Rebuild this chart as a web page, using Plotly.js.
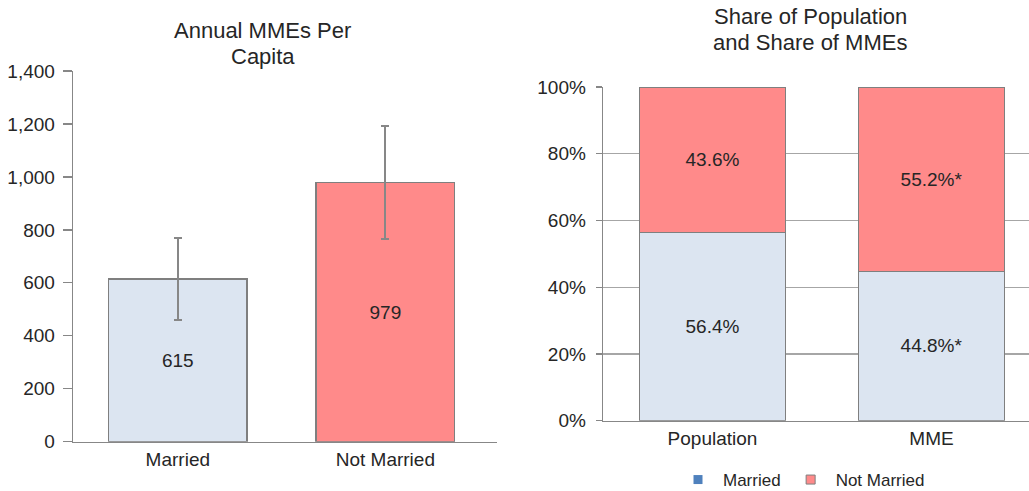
<!DOCTYPE html>
<html>
<head>
<meta charset="utf-8">
<script src="https://cdn.plot.ly/plotly-3.0.1.min.js"></script>
<style>html,body{margin:0;padding:0;background:#fff;}#chart{width:1029px;height:491px;}</style>
</head>
<body>
<div id="chart"></div>
<script>
// Left chart: Annual MMEs per capita
const perCapitaCategories = ['Married', 'Not Married'];
const perCapitaValues = [615, 979];
const perCapitaErrors = [154, 212];
const perCapitaLabels = ['615', '979'];

// Right chart: share of population and share of MMEs
const shareCategories = ['Population', 'MME'];
const marriedShare = [56.4, 44.8];
const notMarriedShare = [43.6, 55.2];
const marriedShareLabels = ['56.4%', '44.8%*'];
const notMarriedShareLabels = ['43.6%', '55.2%*'];

const leftTickVals = [0, 200, 400, 600, 800, 1000, 1200, 1400];
const leftTickText = ['0', '200', '400', '600', '800', '1,000', '1,200', '1,400'];
const rightTickVals = [0, 20, 40, 60, 80, 100];
const rightTickText = ['0%', '20%', '40%', '60%', '80%', '100%'];

const FONT = 'Liberation Sans, Arial, sans-serif';
const BLUE_FILL = '#DCE5F1';
const PINK_FILL = '#FF8A8A';
const OUTLINE = '#7F7F7F';
const AXIS = '#878787';
const TXT = '#262626';

const W = 1029, H = 491;
const px = v => v / W;
const py = v => (H - v) / H;

const traces = [
  {
    type: 'bar', x: perCapitaCategories, y: perCapitaValues,
    xaxis: 'x', yaxis: 'y', width: 0.667,
    marker: {color: [BLUE_FILL, PINK_FILL], line: {color: OUTLINE, width: 1.3}},
    text: perCapitaLabels, textposition: 'inside', insidetextanchor: 'middle',
    textangle: 0, constraintext: 'none',
    textfont: {family: FONT, size: 19, color: TXT},
    error_y: {type: 'data', array: perCapitaErrors, visible: true, color: AXIS, thickness: 2, width: 4},
    showlegend: false, hoverinfo: 'skip'
  },
  {
    type: 'bar', x: shareCategories, y: marriedShare, name: 'Married',
    xaxis: 'x2', yaxis: 'y2', width: 0.665,
    marker: {color: BLUE_FILL, line: {color: OUTLINE, width: 1.3}},
    text: marriedShareLabels, textposition: 'inside', insidetextanchor: 'middle',
    textangle: 0, constraintext: 'none',
    textfont: {family: FONT, size: 19, color: TXT},
    showlegend: false, hoverinfo: 'skip'
  },
  {
    type: 'bar', x: shareCategories, y: notMarriedShare, name: 'Not Married',
    xaxis: 'x2', yaxis: 'y2', width: 0.665,
    marker: {color: PINK_FILL, line: {color: OUTLINE, width: 1.3}},
    text: notMarriedShareLabels, textposition: 'inside', insidetextanchor: 'middle',
    textangle: 0, constraintext: 'none',
    textfont: {family: FONT, size: 19, color: TXT},
    showlegend: false, hoverinfo: 'skip'
  },
  {
    type: 'scatter', mode: 'markers', x: [null], y: [null], name: 'Married',
    xaxis: 'x2', yaxis: 'y2',
    marker: {symbol: 'square', size: 9, color: '#4F81BD', line: {width: 0}},
    showlegend: true, hoverinfo: 'skip'
  },
  {
    type: 'scatter', mode: 'markers', x: [null], y: [null], name: 'Not Married',
    xaxis: 'x2', yaxis: 'y2',
    marker: {symbol: 'square', size: 9, color: PINK_FILL, line: {width: 1, color: OUTLINE}},
    showlegend: true, hoverinfo: 'skip'
  }
];

const tickFont = {family: FONT, size: 19, color: TXT};

const layout = {
  width: W, height: H,
  margin: {l: 0, r: 0, t: 0, b: 0, autoexpand: false},
  paper_bgcolor: '#fff', plot_bgcolor: 'rgba(0,0,0,0)',
  font: {family: FONT, color: TXT},
  barmode: 'stack',
  showlegend: true,
  legend: {
    orientation: 'h', traceorder: 'normal',
    x: px(673), xanchor: 'left', y: py(480), yanchor: 'middle',
    font: {family: FONT, size: 17, color: TXT}, itemwidth: 40,
    bgcolor: 'rgba(0,0,0,0)'
  },
  xaxis: {
    domain: [px(73), px(497)], range: [-0.505, 1.538], type: 'category',
    showline: true, linecolor: AXIS, linewidth: 1.3, ticks: '', showgrid: false,
    tickfont: tickFont, anchor: 'y', fixedrange: true
  },
  yaxis: {
    type: 'linear',
    domain: [py(441.7), py(71)], range: [0, 1400], tickmode: 'array',
    tickvals: leftTickVals, ticktext: leftTickText,
    showline: true, linecolor: AXIS, linewidth: 1.3,
    ticks: 'outside', ticklen: 9, tickcolor: AXIS, tickwidth: 1.3, showgrid: false,
    zeroline: false, tickfont: tickFont, anchor: 'x', ticklabelstandoff: 4, fixedrange: true
  },
  xaxis2: {
    domain: [px(603), 1], range: [-0.5, 1.445], type: 'category',
    showline: true, linecolor: AXIS, linewidth: 1.3, ticks: '', showgrid: false,
    tickfont: tickFont, anchor: 'y2', fixedrange: true
  },
  yaxis2: {
    type: 'linear',
    domain: [py(420.7), py(87)], range: [0, 100], tickmode: 'array',
    tickvals: rightTickVals, ticktext: rightTickText,
    showline: true, linecolor: AXIS, linewidth: 1.3,
    ticks: 'outside', ticklen: 6, tickcolor: AXIS, tickwidth: 1.3,
    showgrid: true, gridcolor: '#A6A6A6', gridwidth: 1.3, zeroline: false,
    tickfont: tickFont, anchor: 'x2', ticklabelstandoff: 6, fixedrange: true
  },
  annotations: [
    {text: 'Annual MMEs Per', x: px(262.5), y: py(30.5), xref: 'paper', yref: 'paper',
     xanchor: 'center', yanchor: 'middle', showarrow: false, font: {family: FONT, size: 22, color: TXT}},
    {text: 'Capita', x: px(262.5), y: py(56), xref: 'paper', yref: 'paper',
     xanchor: 'center', yanchor: 'middle', showarrow: false, font: {family: FONT, size: 22, color: TXT}},
    {text: 'Share of Population', x: px(810), y: py(17), xref: 'paper', yref: 'paper',
     xanchor: 'center', yanchor: 'middle', showarrow: false, font: {family: FONT, size: 22, color: TXT}},
    {text: 'and Share of MMEs', x: px(810), y: py(42), xref: 'paper', yref: 'paper',
     xanchor: 'center', yanchor: 'middle', showarrow: false, font: {family: FONT, size: 22, color: TXT}}
  ]
};

Plotly.newPlot('chart', traces, layout, {staticPlot: true, displayModeBar: false});
</script>
</body>
</html>
